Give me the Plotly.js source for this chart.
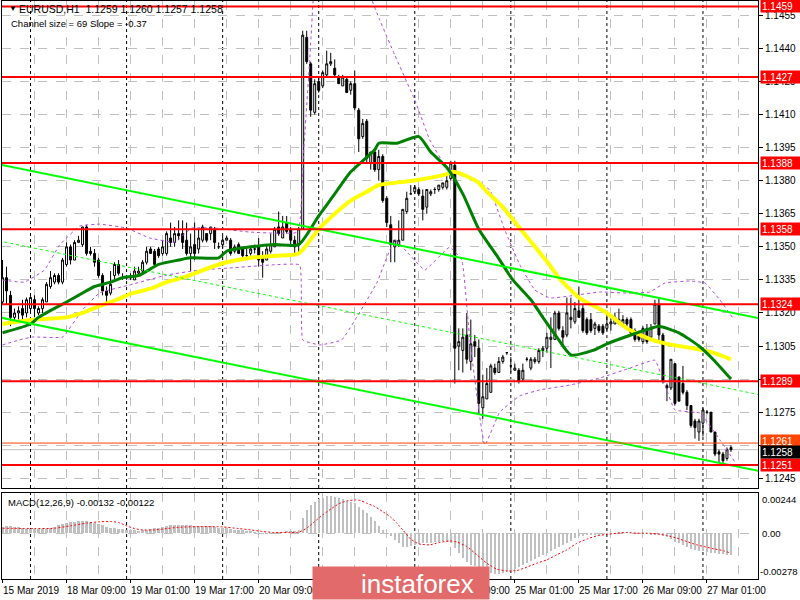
<!DOCTYPE html>
<html><head><meta charset="utf-8">
<script src="https://cdn.plot.ly/plotly-3.0.1.min.js"></script>
<style>html,body{margin:0;padding:0;background:#fff}#chart{width:800px;height:600px}</style>
</head><body><div id="chart"></div>
<script>
// ---- candles (EURUSD H1), bar index 0..182 ----
const openP = [1.1325,1.1336,1.1328,1.1318,1.1320,1.1322,1.1320,1.1322,1.1326,1.1320,
1.1322,1.1325,1.1332,1.1334,1.1337,1.1334,1.1342,1.1350,1.1344,1.1352,
1.1351,1.1359,1.1348,1.1347,1.1344,1.1337,1.1330,1.1329,1.1337,1.1342,
1.1336,1.1336,1.1336,1.1335,1.1338,1.1339,1.1343,1.1349,1.1348,1.1349,
1.1347,1.1347,1.1354,1.1352,1.1356,1.1356,1.1353,1.1347,1.1351,1.1349,
1.1353,1.1356,1.1356,1.1358,1.1350,1.1351,1.1353,1.1353,1.1348,1.1351,
1.1349,1.1346,1.1347,1.1349,1.1350,1.1346,1.1344,1.1348,1.1350,1.1359,
1.1354,1.1361,1.1358,1.1353,1.1351,1.1358,1.1445,1.1433,1.1411,1.1425,
1.1423,1.1428,1.1433,1.1431,1.1427,1.1423,1.1426,1.1421,1.1424,1.1412,
1.1400,1.1407,1.1388,1.1393,1.1385,1.1391,1.1372,1.1360,1.1350,1.1351,
1.1353,1.1366,1.1374,1.1375,1.1376,1.1373,1.1368,1.1374,1.1376,1.1376,
1.1377,1.1377,1.1381,1.1387,1.1305,1.1303,1.1310,1.1298,1.1307,1.1304,
1.1277,1.1281,1.1284,1.1295,1.1293,1.1298,1.1302,1.1296,1.1294,1.1294,
1.1290,1.1299,1.1295,1.1298,1.1298,1.1303,1.1304,1.1308,1.1308,1.1320,
1.1312,1.1310,1.1317,1.1316,1.1321,1.1322,1.1317,1.1317,1.1313,1.1314,
1.1314,1.1313,1.1315,1.1315,1.1315,1.1315,1.1317,1.1317,1.1312,1.1311,
1.1307,1.1313,1.1309,1.1315,1.1324,1.1310,1.1287,1.1286,1.1297,1.1291,
1.1288,1.1284,1.1278,1.1271,1.1266,1.1270,1.1275,1.1275,1.1266,1.1257,
1.1256,1.1254,1.1259];
const highP = [1.1344,1.1341,1.1330,1.1322,1.1323,1.1326,1.1327,1.1329,1.1328,1.1323,
1.1327,1.1334,1.1339,1.1338,1.1338,1.1345,1.1352,1.1351,1.1353,1.1355,
1.1359,1.1360,1.1350,1.1349,1.1345,1.1338,1.1332,1.1339,1.1343,1.1344,
1.1338,1.1337,1.1338,1.1341,1.1341,1.1344,1.1350,1.1350,1.1349,1.1350,
1.1353,1.1357,1.1361,1.1359,1.1362,1.1362,1.1361,1.1356,1.1361,1.1358,
1.1360,1.1356,1.1359,1.1359,1.1352,1.1355,1.1355,1.1354,1.1351,1.1352,
1.1350,1.1349,1.1350,1.1351,1.1354,1.1348,1.1351,1.1356,1.1359,1.1366,
1.1364,1.1364,1.1359,1.1355,1.1359,1.1448,1.1448,1.1434,1.1426,1.1427,
1.1430,1.1439,1.1438,1.1435,1.1428,1.1428,1.1427,1.1425,1.1430,1.1413,
1.1408,1.1408,1.1393,1.1394,1.1394,1.1392,1.1373,1.1364,1.1353,1.1362,
1.1367,1.1375,1.1378,1.1378,1.1377,1.1376,1.1376,1.1376,1.1377,1.1378,
1.1379,1.1383,1.1389,1.1389,1.1313,1.1313,1.1320,1.1317,1.1310,1.1308,
1.1292,1.1295,1.1297,1.1297,1.1300,1.1301,1.1302,1.1300,1.1297,1.1295,
1.1297,1.1300,1.1300,1.1300,1.1304,1.1305,1.1311,1.1318,1.1321,1.1321,
1.1314,1.1327,1.1327,1.1325,1.1332,1.1324,1.1318,1.1320,1.1316,1.1315,
1.1315,1.1321,1.1318,1.1320,1.1322,1.1319,1.1318,1.1318,1.1313,1.1312,
1.1314,1.1315,1.1315,1.1326,1.1327,1.1311,1.1288,1.1299,1.1297,1.1291,
1.1296,1.1285,1.1278,1.1272,1.1272,1.1277,1.1276,1.1275,1.1266,1.1258,
1.1257,1.1259,1.1260];
const lowP = [1.1324,1.1324,1.1314,1.1316,1.1317,1.1316,1.1318,1.1320,1.1318,1.1319,
1.1320,1.1325,1.1331,1.1333,1.1333,1.1333,1.1341,1.1342,1.1344,1.1352,
1.1350,1.1346,1.1346,1.1341,1.1336,1.1328,1.1325,1.1328,1.1335,1.1337,
1.1335,1.1335,1.1335,1.1335,1.1337,1.1338,1.1342,1.1347,1.1342,1.1345,
1.1346,1.1346,1.1350,1.1350,1.1353,1.1349,1.1346,1.1339,1.1344,1.1347,
1.1352,1.1352,1.1353,1.1349,1.1349,1.1349,1.1353,1.1346,1.1347,1.1347,
1.1344,1.1345,1.1346,1.1347,1.1341,1.1336,1.1344,1.1347,1.1350,1.1355,
1.1354,1.1356,1.1350,1.1347,1.1347,1.1358,1.1433,1.1409,1.1410,1.1420,
1.1422,1.1427,1.1432,1.1427,1.1424,1.1423,1.1420,1.1419,1.1412,1.1393,
1.1399,1.1388,1.1385,1.1384,1.1380,1.1370,1.1359,1.1343,1.1343,1.1350,
1.1353,1.1365,1.1374,1.1374,1.1373,1.1362,1.1365,1.1373,1.1374,1.1375,
1.1376,1.1376,1.1380,1.1288,1.1294,1.1293,1.1297,1.1294,1.1300,1.1274,
1.1272,1.1281,1.1284,1.1292,1.1293,1.1297,1.1301,1.1293,1.1294,1.1288,
1.1289,1.1298,1.1294,1.1297,1.1297,1.1300,1.1302,1.1295,1.1308,1.1312,
1.1305,1.1309,1.1313,1.1315,1.1318,1.1311,1.1310,1.1311,1.1310,1.1311,
1.1310,1.1312,1.1312,1.1315,1.1315,1.1315,1.1314,1.1310,1.1307,1.1307,
1.1306,1.1306,1.1308,1.1315,1.1307,1.1288,1.1280,1.1285,1.1278,1.1280,
1.1283,1.1276,1.1268,1.1263,1.1262,1.1264,1.1274,1.1266,1.1255,1.1252,
1.1252,1.1253,1.1257];
const closeP = [1.1336,1.1330,1.1318,1.1320,1.1321,1.1319,1.1326,1.1327,1.1322,1.1322,
1.1326,1.1333,1.1336,1.1337,1.1334,1.1344,1.1350,1.1344,1.1352,1.1353,
1.1359,1.1347,1.1347,1.1343,1.1337,1.1330,1.1328,1.1333,1.1342,1.1338,
1.1336,1.1336,1.1336,1.1339,1.1339,1.1343,1.1348,1.1347,1.1342,1.1346,
1.1350,1.1356,1.1352,1.1356,1.1355,1.1352,1.1347,1.1350,1.1347,1.1354,
1.1359,1.1353,1.1359,1.1352,1.1350,1.1353,1.1354,1.1347,1.1350,1.1347,
1.1346,1.1346,1.1349,1.1349,1.1344,1.1343,1.1349,1.1351,1.1358,1.1356,
1.1359,1.1357,1.1353,1.1350,1.1358,1.1446,1.1434,1.1412,1.1424,1.1421,
1.1429,1.1433,1.1434,1.1428,1.1424,1.1427,1.1420,1.1424,1.1413,1.1399,
1.1406,1.1390,1.1393,1.1385,1.1391,1.1371,1.1361,1.1351,1.1353,1.1353,
1.1367,1.1372,1.1374,1.1377,1.1374,1.1367,1.1376,1.1375,1.1376,1.1378,
1.1379,1.1380,1.1388,1.1304,1.1307,1.1309,1.1299,1.1306,1.1305,1.1279,
1.1282,1.1288,1.1296,1.1293,1.1298,1.1300,1.1302,1.1296,1.1295,1.1289,
1.1294,1.1299,1.1299,1.1299,1.1303,1.1304,1.1309,1.1309,1.1320,1.1313,
1.1309,1.1320,1.1318,1.1322,1.1318,1.1312,1.1311,1.1312,1.1315,1.1312,
1.1311,1.1315,1.1316,1.1318,1.1317,1.1317,1.1315,1.1311,1.1308,1.1308,
1.1313,1.1307,1.1313,1.1324,1.1310,1.1289,1.1286,1.1299,1.1279,1.1280,
1.1284,1.1278,1.1269,1.1268,1.1271,1.1276,1.1275,1.1266,1.1256,1.1256,
1.1253,1.1258,1.1258];
const barIndex = openP.map((_, i) => i);

// ---- time axis ----
const tickBars   = [0, 16, 32, 48, 64, 112, 128, 144, 160, 176];
const tickLabels = ['15 Mar 2019','18 Mar 09:00','19 Mar 01:00','19 Mar 17:00','20 Mar 09:00',
                    '22 Mar 09:00','25 Mar 01:00','25 Mar 17:00','26 Mar 09:00','27 Mar 01:00'];
const daySeparators = [7, 31, 55, 79, 103, 127, 151, 175];

// ---- moving averages (read at sample bars) ----
const maFastIdx = [0,7,9,16,19,23,27,30,34,39,44,47,54,56,62,68,74,79,83,87,90,93,94,98.5,104,107,111,115,119,123.5,127.5,132,135,138.5,142,147.5,151,157,162,164,169,174,177.5,182];
const maFastVal = [1.1311,1.1315,1.1318,1.1325,1.1328,1.1332,1.1334,1.1336,1.1337,1.1342,1.1344,1.1345,1.1345,1.1348,1.1350,1.1351,1.1351,1.1364,1.1374,1.1384,1.1389,1.1394,1.1397,1.1397,1.1400,1.1393,1.1386,1.1374,1.1358,1.1346,1.1335,1.1326,1.1318,1.1309,1.1301,1.1303,1.1306,1.1310,1.1313,1.1314,1.1311,1.1305,1.1299,1.1290];
const maSlowIdx = [0,8,16,20,24,28.5,32.5,37,41,45,54,62,68,74,79,83,87,91,94,102.5,111,112.5,116,119,121,125,129,133.5,137,139,144,151,156,162,166,172.5,177.5,182];
const maSlowVal = [1.1315,1.1317,1.1318,1.1320,1.1323,1.1326,1.1329,1.1331,1.1334,1.1336,1.1342,1.1345,1.1346,1.1347,1.1358,1.1365,1.1371,1.1375,1.1378,1.1380,1.1383,1.1384,1.1382,1.1379,1.1375,1.1368,1.1359,1.1349,1.1341,1.1336,1.1327,1.1320,1.1313,1.1308,1.1306,1.1304,1.1302,1.1299];

// ---- envelope bands (dashed purple, read at sample bars; null = off chart) ----
const bandUpIdx = [0,5.5,10.5,14.25,19.25,24.25,31,36.75,43,47.25,53,61.75,73.75,75.25,76.75,77.75,84,91.25,94.25,98,103,106.75,110.5,114.25,118,121.75,125.5,129.25,133,136.75,141.75,149.25,156.75,161.75,165.5,171.75,175.5,179.25,182.5];
const bandUpVal = [1.13349,1.13340,1.13395,1.13508,1.13594,1.13603,1.13585,1.13540,1.13522,1.13585,1.13585,1.13567,1.13567,1.13939,1.14347,1.14665,null,1.14665,1.14529,1.14370,1.14166,1.13985,1.13871,1.13826,1.13803,1.13758,1.13576,1.13418,1.13304,1.13268,1.13277,1.13295,1.13290,1.13295,1.13336,1.13345,1.13336,1.13259,1.13177];
const bandLoIdx = [0,4.25,7.5,15,20,24.25,31.75,41,49.25,56.75,67.25,74.25,75,79.25,84.75,93.5,98,101.75,105.5,111.75,114.75,116.75,120.5,124.25,129.25,134.25,141.75,149.25,156.75,163,165.5,168,174.25,179.25,183];
const bandLoVal = [1.13055,1.13078,1.13091,1.13091,1.13214,1.13291,1.13327,1.13372,1.13395,1.13404,1.13418,1.13418,1.13078,1.13055,1.13078,1.13336,1.13531,1.13463,1.13395,1.13499,1.13440,1.13078,1.12601,1.12751,1.12824,1.12851,1.12873,1.12905,1.12950,1.12986,1.12873,1.12760,1.12746,1.12624,1.12524];

// ---- regression channel ----
const channelIdx    = [-1, 190];
const channelUpper  = [1.13874, 1.13173];
const channelMiddle = [1.13527, 1.12826];
const channelLower  = [1.13181, 1.12480];

// ---- horizontal levels ----
const levels = [1.1459, 1.1427, 1.1388, 1.1358, 1.1324, 1.1289, 1.1251];
const askLevel = 1.1261;
const bidLevel = 1.1258;
const priceTicks = [1.1245,1.1260,1.1275,1.1290,1.1305,1.1320,1.1335,1.1350,1.1365,1.1380,1.1395,1.1410,1.1425,1.1440,1.1455];
const hiddenTicks = [1.1260, 1.1290];   // covered by level boxes in the original

// ---- MACD(12,26,9) ----
const macdHist = [0.00040,0.00045,0.00045,0.00040,0.00036,0.00030,0.00028,0.00026,0.00024,0.00024,
0.00024,0.00028,0.00034,0.00040,0.00047,0.00053,0.00061,0.00065,0.00069,0.00073,
0.00077,0.00075,0.00069,0.00063,0.00057,0.00049,0.00040,0.00034,0.00030,0.00028,
0.00024,0.00022,0.00020,0.00018,0.00016,0.00018,0.00022,0.00026,0.00030,0.00034,
0.00038,0.00045,0.00049,0.00051,0.00051,0.00051,0.00049,0.00047,0.00045,0.00045,
0.00045,0.00045,0.00042,0.00038,0.00034,0.00032,0.00030,0.00026,0.00022,0.00020,
0.00018,0.00014,0.00012,0.00008,0.00004,-0.00002,-0.00004,-0.00002,0.00002,0.00006,
0.00010,0.00014,0.00016,0.00016,0.00020,0.00091,0.00138,0.00172,0.00192,0.00206,
0.00216,0.00223,0.00223,0.00218,0.00212,0.00206,0.00198,0.00192,0.00182,0.00162,
0.00142,0.00121,0.00101,0.00071,0.00045,0.00020,0.00000,-0.00020,-0.00040,-0.00057,
-0.00081,-0.00081,-0.00077,-0.00073,-0.00065,-0.00061,-0.00061,-0.00059,-0.00053,-0.00051,
-0.00049,-0.00053,-0.00061,-0.00091,-0.00121,-0.00152,-0.00172,-0.00192,-0.00202,-0.00212,
-0.00223,-0.00227,-0.00239,-0.00247,-0.00247,-0.00243,-0.00235,-0.00227,-0.00218,-0.00206,
-0.00196,-0.00182,-0.00168,-0.00158,-0.00146,-0.00134,-0.00121,-0.00109,-0.00095,-0.00081,
-0.00069,-0.00057,-0.00045,-0.00032,-0.00020,-0.00014,-0.00012,-0.00012,-0.00012,-0.00010,
-0.00010,-0.00006,-0.00002,0.00004,0.00006,0.00006,0.00006,0.00004,0.00000,-0.00002,
-0.00004,-0.00006,-0.00008,-0.00008,-0.00010,-0.00016,-0.00024,-0.00036,-0.00051,-0.00061,
-0.00073,-0.00085,-0.00095,-0.00101,-0.00107,-0.00111,-0.00115,-0.00119,-0.00123,-0.00127,
-0.00129,-0.00131,-0.00132];
const signalIdx = [0,8,13,17,21,24,27,29,31,33,35,38,41,44,50,55,59,62,65,68,72,74,76,78,80,82,84,86,88,89.5,91,93,95,97,98.5,100,102,104,106.75,109,111.75,113.5,116,118.5,121,123.5,126,128.5,131,133.5,136,138.5,141,143.5,146,148.5,151,153.5,156,158.5,161,163.5,166,168.5,171,173.5,175.25,177.75,180.25,182];
const signalVal = [0.00030,0.00028,0.00030,0.00045,0.00061,0.00069,0.00071,0.00065,0.00045,0.00028,0.00020,0.00020,0.00028,0.00036,0.00040,0.00038,0.00028,0.00020,0.00010,0.00004,0.00004,0.00006,0.00030,0.00071,0.00111,0.00146,0.00178,0.00196,0.00202,0.00198,0.00182,0.00162,0.00131,0.00097,0.00061,0.00020,-0.00036,-0.00065,-0.00071,-0.00057,-0.00047,-0.00053,-0.00081,-0.00131,-0.00182,-0.00218,-0.00229,-0.00227,-0.00206,-0.00182,-0.00162,-0.00131,-0.00101,-0.00061,-0.00036,-0.00016,-0.00008,0.00000,0.00004,0.00000,0.00000,-0.00004,-0.00014,-0.00030,-0.00051,-0.00071,-0.00081,-0.00095,-0.00107,-0.00122];
const macdMax = 0.00244, macdMin = -0.00278;

// ---------------- build ----------------
const PX = x => (x - 2) / 756;          // pixel -> paper x
const PY = y => (579 - y) / 578;        // pixel -> paper y
const FONT = 'Liberation Sans, Arial, sans-serif';

const traces = [
  {type:'scatter', mode:'lines', x:bandUpIdx, y:bandUpVal, xaxis:'x', yaxis:'y', connectgaps:false,
   line:{color:'#b347e0', width:1, dash:'3px,3px', shape:'spline', smoothing:0.3}, hoverinfo:'skip'},
  {type:'scatter', mode:'lines', x:bandLoIdx, y:bandLoVal, xaxis:'x', yaxis:'y',
   line:{color:'#b347e0', width:1, dash:'3px,3px', shape:'spline', smoothing:0.3}, hoverinfo:'skip'},
  {type:'candlestick', x:barIndex, open:openP, high:highP, low:lowP, close:closeP,
   xaxis:'x', yaxis:'y', whiskerwidth:0, hoverinfo:'skip', showlegend:false,
   increasing:{line:{color:'#000', width:1}, fillcolor:'#ffffff'},
   decreasing:{line:{color:'#000', width:1}, fillcolor:'#000000'}},
  {type:'scatter', mode:'lines', x:maSlowIdx, y:maSlowVal, xaxis:'x', yaxis:'y',
   line:{color:'#ffff00', width:4, shape:'spline', smoothing:0.6}, hoverinfo:'skip'},
  {type:'scatter', mode:'lines', x:maFastIdx, y:maFastVal, xaxis:'x', yaxis:'y',
   line:{color:'#008000', width:3, shape:'spline', smoothing:0.6}, hoverinfo:'skip'},
  {type:'scatter', mode:'lines', x:channelIdx, y:channelUpper, xaxis:'x', yaxis:'y',
   line:{color:'#00ff00', width:2}, hoverinfo:'skip'},
  {type:'scatter', mode:'lines', x:channelIdx, y:channelLower, xaxis:'x', yaxis:'y',
   line:{color:'#00ff00', width:2}, hoverinfo:'skip'},
  {type:'scatter', mode:'lines', x:channelIdx, y:channelMiddle, xaxis:'x', yaxis:'y',
   line:{color:'#00ff00', width:1, dash:'3px,3px'}, hoverinfo:'skip'},
  {type:'bar', x:barIndex, y:macdHist, xaxis:'x2', yaxis:'y2', width:0.6,
   marker:{color:'#c0c0c0', line:{width:0}}, hoverinfo:'skip'},
  {type:'scatter', mode:'lines', x:signalIdx, y:signalVal, xaxis:'x2', yaxis:'y2',
   line:{color:'#ff0000', width:1, dash:'2px,2px', shape:'spline', smoothing:0.5}, hoverinfo:'skip'}
];

const shapes = [];
levels.forEach(v => shapes.push({type:'line', xref:'paper', x0:0, x1:1, yref:'y', y0:v, y1:v,
  line:{color:'#ff0000', width:2}, layer:'above'}));
shapes.push({type:'line', xref:'paper', x0:0, x1:1, yref:'y', y0:askLevel, y1:askLevel,
  line:{color:'#ff4500', width:1}, layer:'above'});
shapes.push({type:'line', xref:'paper', x0:0, x1:1, yref:'y', y0:bidLevel, y1:bidLevel,
  line:{color:'#c0c0c0', width:1}, layer:'below'});
daySeparators.forEach(d => {
  shapes.push({type:'line', xref:'x', x0:d, x1:d, yref:'y domain', y0:0, y1:1,
    line:{color:'#000', width:1, dash:'3px,3px'}, layer:'below'});
  shapes.push({type:'line', xref:'x2', x0:d, x1:d, yref:'y2 domain', y0:0, y1:1,
    line:{color:'#000', width:1, dash:'3px,3px'}, layer:'below'});
});

const annotations = [];
annotations.push({xref:'paper', yref:'paper', x:PX(7), y:PY(9), xanchor:'left', yanchor:'middle',
  text:'▼', showarrow:false, font:{family:FONT, size:8, color:'#000'}});
annotations.push({xref:'paper', yref:'paper', x:PX(17), y:PY(9), xanchor:'left', yanchor:'middle',
  text:'EURUSD,H1&nbsp;&nbsp;1.1259 1.1260 1.1257 1.1258', showarrow:false, font:{family:FONT, size:10.5, color:'#000'}});
annotations.push({xref:'paper', yref:'paper', x:PX(9), y:PY(23), xanchor:'left', yanchor:'middle',
  text:'Channel size = 69 Slope = -0.37', showarrow:false, font:{family:FONT, size:9.5, color:'#000'}});
annotations.push({xref:'paper', yref:'paper', x:PX(6), y:PY(502), xanchor:'left', yanchor:'middle',
  text:'MACD(12,26,9) -0.00132 -0.00122', showarrow:false, font:{family:FONT, size:9.5, color:'#000'}});
// MACD scale labels (MT4 prints window max/min just inside the edges)
annotations.push({xref:'paper', yref:'y2', x:1, y:macdMax, yshift:-7, xanchor:'left', xshift:2, yanchor:'middle',
  text:macdMax.toFixed(5), showarrow:false, font:{family:FONT, size:9.5, color:'#000'}});
annotations.push({xref:'paper', yref:'y2', x:1, y:0, xanchor:'left', xshift:2, yanchor:'middle',
  text:'0.00', showarrow:false, font:{family:FONT, size:9.5, color:'#000'}});
annotations.push({xref:'paper', yref:'y2', x:1, y:macdMin, yshift:8, xanchor:'left', xshift:0, yanchor:'middle',
  text:macdMin.toFixed(5), showarrow:false, font:{family:FONT, size:9.5, color:'#000'}});
// level boxes on the price scale
levels.forEach(v => annotations.push({xref:'paper', yref:'y', x:1, xshift:2, y:v, yshift:(v === 1.1459 ? 1 : 0),
  xanchor:'left', yanchor:'middle',
  text:v.toFixed(4), showarrow:false, bgcolor:'#ff0000', width:38, height:10, borderpad:1, align:'left',
  font:{family:FONT, size:10, color:'#ffffff'}}));
annotations.push({xref:'paper', yref:'y', x:1, xshift:2, y:askLevel, yshift:2, xanchor:'left', yanchor:'middle',
  text:askLevel.toFixed(4), showarrow:false, bgcolor:'#ff4500', width:38, height:10, borderpad:1, align:'left',
  font:{family:FONT, size:10, color:'#ffffff'}});
annotations.push({xref:'paper', yref:'y', x:1, xshift:2, y:bidLevel, yshift:-2, xanchor:'left', yanchor:'middle',
  text:bidLevel.toFixed(4), showarrow:false, bgcolor:'#000000', width:38, height:10, borderpad:1, align:'left',
  font:{family:FONT, size:10, color:'#ffffff'}});
// time labels
tickBars.forEach((b, k) => annotations.push({xref:'x2', yref:'paper', x:b, xshift:-2, y:0, yshift:-4,
  xanchor:'left', yanchor:'top', text:tickLabels[k], showarrow:false, font:{family:FONT, size:10, color:'#000'}}));
// logo
annotations.push({xref:'paper', yref:'paper', x:PX(312), y:PY(600), xanchor:'left', yanchor:'bottom',
  text:'&nbsp;', showarrow:false, bgcolor:'#e26a6a', width:176, height:32, borderpad:0});
annotations.push({xref:'paper', yref:'paper', x:PX(417), y:PY(584), xanchor:'center', yanchor:'middle',
  text:'instaforex', showarrow:false, font:{family:FONT, size:26, color:'#ffffff'}});

const gridX = {tickmode:'linear', tick0:0, dtick:16, showgrid:true, gridcolor:'#c0c0c0', griddash:'dash', gridwidth:1,
  minor:{tickmode:'linear', tick0:0, dtick:8, showgrid:true, gridcolor:'#c0c0c0', griddash:'dash', gridwidth:1, ticks:''},
  showline:true, linecolor:'#000', linewidth:1, mirror:true, zeroline:false, range:[-0.125, 188.75], fixedrange:true,
  rangeslider:{visible:false}};

const layout = {
  width:800, height:600, margin:{l:2, r:42, t:1, b:21},
  paper_bgcolor:'#ffffff', plot_bgcolor:'#ffffff', showlegend:false, bargap:0,
  font:{family:FONT, size:10, color:'#000'},
  xaxis:Object.assign({}, gridX, {anchor:'y', showticklabels:false, ticks:''}),
  xaxis2:Object.assign({}, gridX, {anchor:'y2', showticklabels:false, ticks:'outside', ticklen:3, tickcolor:'#000'}),
  yaxis:{domain:[0.1574, 1], anchor:'x', side:'right', range:[1.12406, 1.14615], tickmode:'array',
    tickvals:priceTicks, ticktext:priceTicks.map(v => hiddenTicks.includes(v) ? '' : v.toFixed(4)),
    ticks:'outside', ticklen:4, tickcolor:'#000',
    showgrid:true, gridcolor:'#c0c0c0', griddash:'dash', showline:true, linecolor:'#000', mirror:true,
    zeroline:false, fixedrange:true, tickfont:{family:FONT, size:10, color:'#000'}},
  yaxis2:{domain:[0, 0.1488], anchor:'x2', side:'right', range:[macdMin, macdMax], tickmode:'array',
    tickvals:[0], showticklabels:false, ticks:'', showgrid:true, gridcolor:'#c0c0c0', griddash:'dash',
    showline:true, linecolor:'#000', mirror:true, zeroline:false, fixedrange:true},
  shapes:shapes, annotations:annotations
};

Plotly.newPlot('chart', traces, layout, {staticPlot:true, displayModeBar:false});
</script></body></html>
